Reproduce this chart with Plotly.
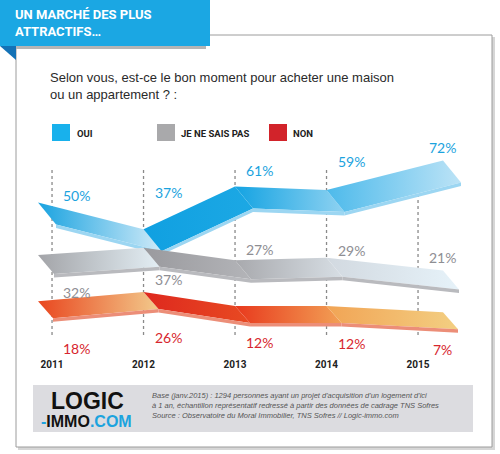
import plotly.graph_objects as go

# ---------------- data ----------------
years = [2011, 2012, 2013, 2014, 2015]
year_labels = ["2011", "2012", "2013", "2014", "2015"]
oui = [50, 37, 61, 59, 72]
nsp = [32, 37, 27, 29, 21]
non = [18, 26, 12, 12, 7]
series_names = ["OUI", "JE NE SAIS PAS", "NON"]

# ---------------- layout constants ----------------
L, T, W, H = 20, 150, 450, 204
X0, X1 = 2010.65, 2015.568
EXT_L, EXT_R = 0.153, 0.273


def P(px, py):
    return (px - L) / W, (T + H - py) / H


fig = go.Figure()

# series styles: axis, range, shear(px), seg gradients, strip colour, label colour, label yshift
styles = [
    dict(vals=nsp, axis="y2", rng=(-48.0, 115.2), shear=(16, 19),
         segs=[("#A3A4A8", "#E3EEF4"), ("#9A9A9E", "#B3B4B8"), ("#A8A9AD", "#D7DEE4"), ("#D2D9E0", "#E6F2F9")],
         strip="#B9BABE", color="#8E8E93", shifts=[-38, -32, 11, 7, 10]),
    dict(vals=non, axis="y3", rng=(-36.0, 168.0), shear=(15, 17),
         segs=[("#E9471F", "#F2C98B"), ("#DE281E", "#E84A22"), ("#E8391D", "#F2A055"), ("#F1A455", "#F3CF82")],
         strip="#EC8E78", color="#D7262E", shifts=[-48, -45, -36, -37, -38]),
    dict(vals=oui, axis="y", rng=(-33.15, 81.46), shear=(18, 22),
         segs=[("#1AA3E0", "#CFEAF8"), ("#10A0E1", "#1CA8E4"), ("#14A3E2", "#8FD2F1"), ("#4DBAEB", "#BCE3F6")],
         strip="#9CD6F2", color="#1BA3DE", shifts=[11, 37, 16, 28, 19]),
]

annotations = []
for st in styles:
    vals = st["vals"]
    lo, hi = st["rng"]
    upx = (X1 - X0) / W
    upy = (hi - lo) / H
    dx = st["shear"][0] * upx
    dy = st["shear"][1] * upy
    t = 3.5 * upy
    s0 = (vals[1] - vals[0]) / (years[1] - years[0])
    s1 = (vals[-1] - vals[-2]) / (years[-1] - years[-2])
    pts = [(years[0] - EXT_L, vals[0] - s0 * EXT_L)]
    pts += list(zip(years[1:-1], vals[1:-1]))
    pts += [(years[-1] + EXT_R, vals[-1] + s1 * EXT_R)]
    for i in range(len(pts) - 1):
        (xa, ya), (xb, yb) = pts[i], pts[i + 1]
        c1, c2 = st["segs"][i]
        fig.add_trace(go.Scatter(
            x=[xa, xb, xb + dx, xa + dx, xa], y=[ya, yb, yb - dy, ya - dy, ya],
            mode="lines", fill="toself", line=dict(width=0), yaxis=st["axis"],
            fillgradient=dict(type="horizontal", colorscale=[[0, c1], [1, c2]]),
            hoverinfo="skip", showlegend=False))
        fig.add_trace(go.Scatter(
            x=[xa + dx, xb + dx, xb + dx, xa + dx, xa + dx],
            y=[ya - dy, yb - dy, yb - dy - t, ya - dy - t, ya - dy],
            mode="lines", fill="toself", line=dict(width=0), yaxis=st["axis"],
            fillcolor=st["strip"], hoverinfo="skip", showlegend=False))
    for yr, v, sh in zip(years, vals, st["shifts"]):
        annotations.append(dict(x=yr + 0.27, y=v, xref="x", yref=st["axis"], text=f"{v}%",
                                showarrow=False, yshift=sh, xanchor="center", yanchor="middle",
                                font=dict(family="Lato, Open Sans", size=14, color=st["color"])))

# ---------------- shapes ----------------
shapes = []


def rect(x0, y0, x1, y1, **kw):
    a, b = P(x0, y1)
    c, d = P(x1, y0)
    return dict(type="rect", xref="paper", yref="paper", x0=a, y0=b, x1=c, y1=d, **kw)


shapes.append(rect(18, 37, 495, 450, fillcolor="#D6D6D6", line=dict(width=0), layer="below"))
shapes.append(rect(16, 35, 492, 447, fillcolor="white", line=dict(color="#9C9C9C", width=1), layer="below"))
# gridlines
g0 = P(0, 335)[1]
g1 = P(0, 167)[1]
for yr in years:
    shapes.append(dict(type="line", xref="x", yref="paper", x0=yr, x1=yr, y0=g0, y1=g1,
                       line=dict(color="#8A8A8A", width=1.3, dash="3px,3px"), layer="below"))
# banner
shapes.append(rect(16, 45, 206, 49, fillcolor="#B5B5B5", line=dict(width=0)))
shapes.append(rect(0, 0, 210, 46, fillcolor="#1BA7E3", line=dict(width=0)))
ta = P(0, 46); tb = P(16, 46); tc = P(16, 60)
shapes.append(dict(type="path", xref="paper", yref="paper",
                   path=f"M{ta[0]},{ta[1]} L{tb[0]},{tb[1]} L{tc[0]},{tc[1]} Z",
                   fillcolor="#1372B6", line=dict(width=0)))
# legend squares
for x0, col in [(52, "#18B1EC"), (157, "#A9A9AB"), (269, "#D2232A")]:
    shapes.append(rect(x0, 124, x0 + 18, 141, fillcolor=col, line=dict(width=0)))
# footer box
shapes.append(rect(33, 385, 473, 432, fillcolor="#DCDCE0", line=dict(width=0)))


def ann(px, py, text, size, color, family="Liberation Sans, Arial", anchor="left", weight="normal", style="normal"):
    x, y = P(px, py)
    annotations.append(dict(x=x, y=y, xref="paper", yref="paper", text=text, showarrow=False,
                            xanchor=anchor, yanchor="middle", align="left",
                            font=dict(family=family, size=size, color=color, weight=weight, style=style)))


ann(13, 23, "UN MARCHÉ DES PLUS<br>ATTRACTIFS…", 13, "white", family="Roboto", weight="bold")
ann(48, 86, "Selon vous, est-ce le bon moment pour acheter une maison<br>ou un appartement ? :", 13, "#2A2A2A")
for px, txt in [(75, series_names[0]), (179, series_names[1]), (291, series_names[2])]:
    ann(px, 133, txt, 9.5, "#222222", family="Roboto", weight="bold")
ann(49, 401, "LOGIC", 23, "#111111", family="Liberation Sans, Arial", weight="bold")
ann(39, 421, "<span style='color:#1BA3DE'>-</span>IMMO<span style='color:#1BA3DE'>.COM</span>", 16,
    "#111111", family="Liberation Sans, Arial", weight="bold")
ann(150, 405, "Base (janv.2015) : 1294 personnes ayant un projet d'acquisition d'un logement d'ici<br>"
              "à 1 an, échantillon représentatif redressé à partir des données de cadrage TNS Sofres<br>"
              "Source : Observatoire du Moral Immobilier, TNS Sofres // Logic-immo.com",
    7.5, "#555555", style="italic")

hidden = dict(visible=False, fixedrange=True)
fig.update_layout(
    width=500, height=454,
    margin=dict(l=L, r=500 - L - W, t=T, b=454 - T - H),
    paper_bgcolor="white", plot_bgcolor="rgba(0,0,0,0)",
    showlegend=False,
    xaxis=dict(range=[X0, X1], tickvals=years, ticktext=year_labels, showgrid=False, zeroline=False,
               showline=False, ticks="", ticklabelstandoff=3,
               tickfont=dict(family="Roboto, Liberation Sans", size=10, color="#222222", weight="bold")),
    yaxis=dict(range=list(styles[2]["rng"]), **hidden),
    yaxis2=dict(range=list(styles[0]["rng"]), overlaying="y", **hidden),
    yaxis3=dict(range=list(styles[1]["rng"]), overlaying="y", **hidden),
    shapes=shapes,
    annotations=annotations,
)

fig.write_html("out.html", config={"displayModeBar": False},
               post_script="document.body.style.margin='0px';")
